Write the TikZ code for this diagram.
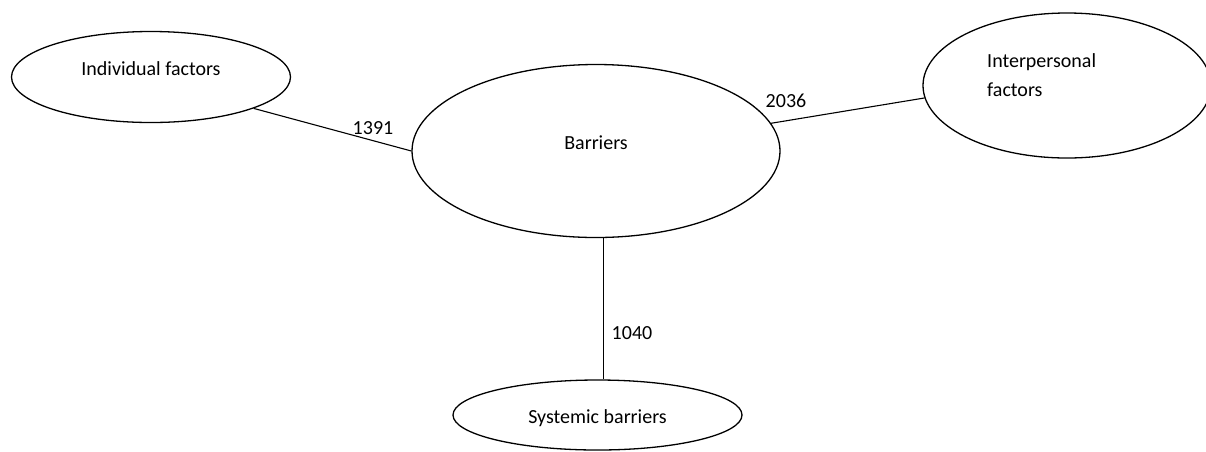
\documentclass[tikz,border=0pt]{standalone}
\usepackage{fontspec}
\setmainfont{Carlito}
\usetikzlibrary{shapes.geometric}
\begin{document}
\begin{tikzpicture}[x=1pt,y=-1pt,
  oval/.style={ellipse,draw=black,line width=1.3pt,inner sep=0pt},
  lbl/.style={anchor=base,inner sep=0pt,font=\fontsize{20}{24}\selectfont},
  link/.style={draw=black,line width=1.1pt}]
\useasboundingbox (0,0) rectangle (1206,451);
\clip (0,0) rectangle (1206,451);
\node[oval,minimum width=279pt,minimum height=91pt] (ind) at (151,77) {};
\node[oval,minimum width=368pt,minimum height=173pt] (bar) at (596,151) {};
\node[oval,minimum width=288pt,minimum height=145pt] (inter) at (1067,85.5) {};
\node[oval,minimum width=289pt,minimum height=70pt] (sys) at (597.5,415) {};
\node[lbl] (tind) at (151,75) {Individual factors};
\node[lbl] (tbar) at (596,149) {Barriers};
\node[lbl,anchor=base west] (tint1) at (987,67) {Interpersonal};
\node[lbl,anchor=base west] (tint2) at (987,96) {factors};
\node[lbl] (tsys) at (597.5,423) {Systemic barriers};
\draw[link] (ind.-17) -- (bar.180);
\draw[link] (bar.9) -- (inter.185.7);
\draw[link] (bar.-85.4) -- (bar.-85.4 |- sys.north);
\node[lbl] (n1391) at (373,134) {1391};
\node[lbl] (n2036) at (786,107) {2036};
\node[lbl] (n1040) at (632,339) {1040};
\end{tikzpicture}
\end{document}
